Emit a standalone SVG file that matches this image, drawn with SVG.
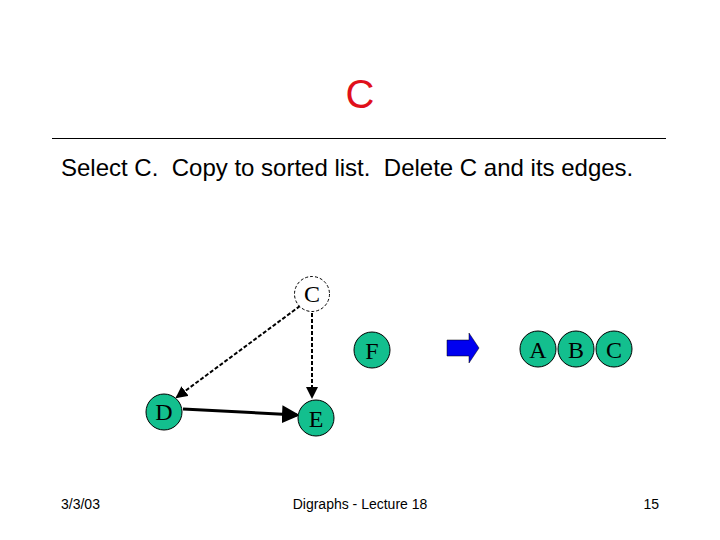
<svg xmlns="http://www.w3.org/2000/svg" width="720" height="540" viewBox="0 0 720 540">
<style>
.node{fill:#13BF8E;stroke:#000;stroke-width:1}
.lbl{font-family:"Liberation Serif",serif;font-size:24px;fill:#000;text-anchor:middle}
.sans{font-family:"Liberation Sans",Arial,sans-serif}
.edge{stroke:#000;fill:none}
</style>
<defs>
<marker id="ah" markerWidth="6" markerHeight="6" refX="5" refY="3" orient="auto" markerUnits="strokeWidth">
<path d="M0,0 L6,3 L0,6 z" fill="#000"/>
</marker>
</defs>
<rect width="720" height="540" fill="#fff"/>
<text x="360" y="108" class="sans" font-size="40" fill="#E0101A" text-anchor="middle">C</text>
<line x1="52" y1="138.5" x2="666" y2="138.5" stroke="#000" stroke-width="1.2"/>
<text x="61" y="176" class="sans" font-size="24" fill="#000" xml:space="preserve" style="white-space:pre">Select C.  Copy to sorted list.  Delete C and its edges.</text>
<g id="connectors">
<line class="edge" x1="300" y1="306" x2="177" y2="397" stroke-width="2" stroke-dasharray="4,2" marker-end="url(#ah)"/>
<line class="edge" x1="312" y1="313" x2="312" y2="397" stroke-width="2" stroke-dasharray="4,2" marker-end="url(#ah)"/>
<line class="edge" x1="183" y1="409" x2="297" y2="415" stroke-width="3" marker-end="url(#ah)"/>
</g>
<g id="node-C">
<circle cx="312" cy="294" r="17.5" fill="#fff" stroke="#000" stroke-width="1" stroke-dasharray="3,2"/>
<text x="312" y="302" class="lbl">C</text>
</g>
<g id="node-F">
<circle class="node" cx="372" cy="350" r="18"/>
<text x="372" y="359" class="lbl">F</text>
</g>
<g id="node-D">
<circle class="node" cx="164" cy="412" r="18"/>
<text x="164" y="420" class="lbl">D</text>
</g>
<g id="node-E">
<circle class="node" cx="316" cy="418" r="18"/>
<text x="316" y="427" class="lbl">E</text>
</g>
<g id="arrow">
<path d="M447,340 L469,340 L469,333 L479,348 L469,363 L469,356 L447,356 z" fill="#0000F0" stroke="#000" stroke-width="0.5"/>
</g>
<g id="node-A">
<circle class="node" cx="538" cy="349" r="18"/>
<text x="538" y="358" class="lbl">A</text>
</g>
<g id="node-B">
<circle class="node" cx="576" cy="349" r="18"/>
<text x="576" y="358" class="lbl">B</text>
</g>
<g id="node-C2">
<circle class="node" cx="614" cy="349" r="18"/>
<text x="614" y="358" class="lbl">C</text>
</g>
<text x="61" y="509" class="sans" font-size="14" fill="#000">3/3/03</text>
<text x="360" y="509" class="sans" font-size="14" fill="#000" text-anchor="middle">Digraphs - Lecture 18</text>
<text x="659" y="509" class="sans" font-size="14" fill="#000" text-anchor="end">15</text>
</svg>
